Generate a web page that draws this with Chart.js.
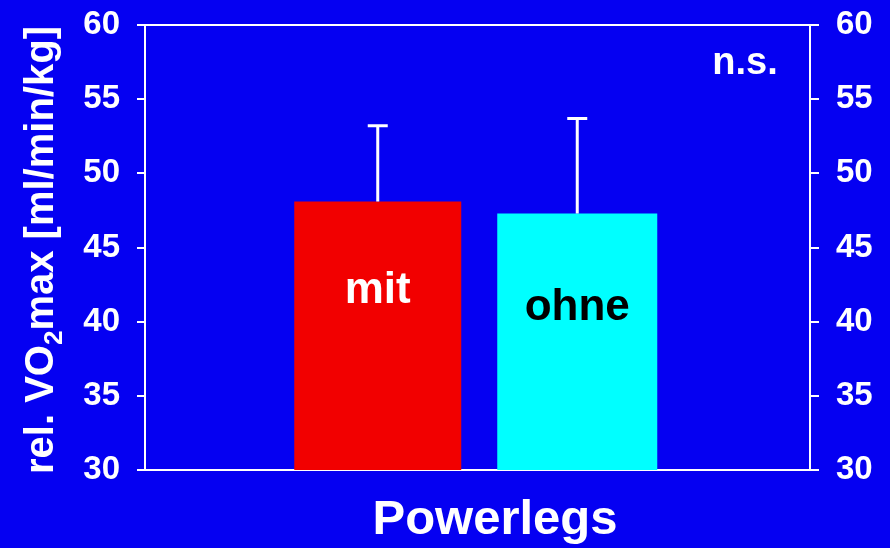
<!DOCTYPE html>
<html>
<head>
<meta charset="utf-8">
<script src="https://cdn.jsdelivr.net/npm/chart.js@4.4.1/dist/chart.umd.min.js"></script>
<style>
  html, body { margin: 0; padding: 0; background: #0500f2; }
  #wrap { width: 890px; height: 548px; position: relative; }
</style>
</head>
<body>
<div id="wrap"><canvas id="c" width="890" height="548"></canvas></div>
<script>
// Data
const categories = ['Powerlegs'];
const groups = ['mit', 'ohne'];
const means = [48.1, 47.3];
const sds = [5.1, 6.4];
const yMin = 30, yMax = 60, yStep = 5;

// Styles
const BG = '#0500f2';
const FG = '#ffffff';
const barColors = ['#f20000', '#00ffff'];
const barLabelColors = ['#ffffff', '#000000'];
const barWidths = [167, 160];
const barLabelAt = [42.1, 40.9];
const FONT = '"Liberation Sans", Arial, Helvetica, sans-serif';

const errorBars = {
  id: 'errorBars',
  afterDatasetsDraw(chart) {
    const ctx = chart.ctx;
    const y = chart.scales.y;
    ctx.save();
    ctx.strokeStyle = FG;
    ctx.lineWidth = 3;
    chart.data.datasets.forEach((ds, i) => {
      const el = chart.getDatasetMeta(i).data[0];
      const top = y.getPixelForValue(means[i] + sds[i]);
      ctx.beginPath();
      ctx.moveTo(el.x, el.y);
      ctx.lineTo(el.x, top);
      ctx.moveTo(el.x - 10, top);
      ctx.lineTo(el.x + 10, top);
      ctx.stroke();
      // group name inside the bar
      ctx.fillStyle = barLabelColors[i];
      ctx.font = 'bold 44px ' + FONT;
      ctx.textAlign = 'center';
      ctx.textBaseline = 'middle';
      ctx.fillText(groups[i], el.x, y.getPixelForValue(barLabelAt[i]));
    });
    ctx.restore();
  }
};

const frameAndText = {
  id: 'frameAndText',
  afterDraw(chart) {
    const ctx = chart.ctx;
    const a = chart.chartArea;
    ctx.save();
    // top edge of the frame
    ctx.strokeStyle = FG;
    ctx.lineWidth = 2;
    ctx.beginPath();
    ctx.moveTo(a.left - 8, a.top);
    ctx.lineTo(a.right + 9, a.top);
    ctx.stroke();

    ctx.fillStyle = FG;
    // significance note
    ctx.font = 'bold 38px ' + FONT;
    ctx.textAlign = 'center';
    ctx.textBaseline = 'alphabetic';
    ctx.fillText('n.s.', 745, 74);

    // x axis title
    ctx.font = 'bold 49px ' + FONT;
    ctx.fillText(categories[0], 495, 534);

    // y axis title with subscript
    ctx.translate(53, 250);
    ctx.rotate(-Math.PI / 2);
    const big = 'bold 40px ' + FONT;
    const small = 'bold 26px ' + FONT;
    const parts = [['rel. VO', big, 0], ['2', small, 9], ['max [ml/min/kg]', big, 0]];
    let total = 0;
    parts.forEach(p => { ctx.font = p[1]; total += ctx.measureText(p[0]).width; });
    let x = -total / 2;
    ctx.textAlign = 'left';
    parts.forEach(p => {
      ctx.font = p[1];
      ctx.fillText(p[0], x, p[2]);
      x += ctx.measureText(p[0]).width;
    });
    ctx.restore();
  }
};

const tickFont = { family: FONT, size: 33, weight: 'bold' };

function fixAxis(width) {
  return function (s) {
    s.width = width;
    s.paddingTop = 0;
    s.paddingBottom = 0;
  };
}

new Chart(document.getElementById('c'), {
  type: 'bar',
  data: {
    labels: categories,
    datasets: groups.map((g, i) => ({
      label: g,
      data: [means[i]],
      backgroundColor: barColors[i],
      borderWidth: 0,
      maxBarThickness: barWidths[i]
    }))
  },
  options: {
    responsive: false,
    animation: false,
    devicePixelRatio: 1,
    layout: { padding: { top: 25, left: 0, right: 0, bottom: 0 } },
    categoryPercentage: 0.6,
    barPercentage: 0.9,
    plugins: { legend: { display: false }, tooltip: { enabled: false } },
    scales: {
      x: {
        ticks: { display: false },
        grid: { display: false },
        border: { color: FG, width: 2 },
        afterFit(s) { s.height = 78; }
      },
      y: {
        position: 'left',
        min: yMin, max: yMax,
        ticks: { stepSize: yStep, color: FG, font: tickFont, padding: 17 },
        grid: { drawOnChartArea: false, color: FG, lineWidth: 2, tickLength: 8, tickColor: FG },
        border: { color: FG, width: 2 },
        afterFit: fixAxis(145)
      },
      y2: {
        position: 'right',
        min: yMin, max: yMax,
        ticks: { stepSize: yStep, color: FG, font: tickFont, padding: 17 },
        grid: { drawOnChartArea: false, color: FG, lineWidth: 2, tickLength: 9, tickColor: FG },
        border: { color: FG, width: 2 },
        afterFit: fixAxis(80)
      }
    }
  },
  plugins: [errorBars, frameAndText]
});
</script>
</body>
</html>
